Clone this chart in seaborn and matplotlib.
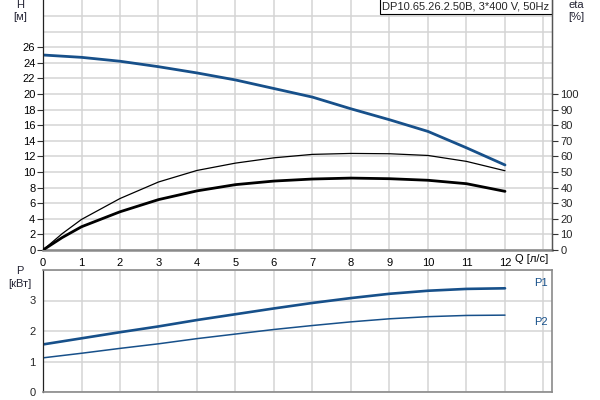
import matplotlib
matplotlib.use("Agg")
import matplotlib.pyplot as plt
import numpy as np
import seaborn as sns

# flow Q [l/s]
q = [0, 1, 2, 3, 4, 5, 6, 7, 8, 9, 10, 11, 12]
q_eta = [0, 0.5, 1, 2, 3, 4, 5, 6, 7, 8, 9, 10, 11, 12]

# head H [m]
head = [25.0, 24.7, 24.2, 23.5, 22.7, 21.8, 20.7, 19.6, 18.1, 16.7, 15.2, 13.1, 10.9]

# efficiencies [%]
eta_pump = [0, 10.5, 19.6, 33.0, 43.6, 51.0, 55.7, 59.1, 61.3, 61.9, 61.7, 60.6, 56.8, 50.8]
eta_total = [0, 8.0, 14.9, 24.5, 32.3, 37.9, 41.9, 44.2, 45.5, 46.1, 45.7, 44.7, 42.5, 37.6]

# power [kW]
p1 = [1.56, 1.76, 1.96, 2.15, 2.36, 2.55, 2.74, 2.92, 3.08, 3.22, 3.32, 3.38, 3.40]
p2 = [1.12, 1.27, 1.43, 1.58, 1.75, 1.90, 2.05, 2.18, 2.30, 2.40, 2.47, 2.51, 2.52]

title = "DP10.65.26.2.50B, 3*400 V, 50Hz"

sns.set_style("white")
plt.rcParams["font.family"] = ["Liberation Sans", "DejaVu Sans"]
plt.rcParams["font.size"] = 8

blue = "#17508a"
grid_c = "#d4d4d4"
txt_c = "#222233"

fig = plt.figure(figsize=(6, 4), dpi=100)
ax = fig.add_axes([43 / 600, 1 - 250 / 400, 509 / 600, 250 / 400 - 0.001])
axp = fig.add_axes([43 / 600, 1 - 392 / 400, 509 / 600, 122 / 400])

xmax = 509 / 38.5

# --- top: head and efficiency
ax.set_xlim(0, xmax)
ax.set_ylim(0, 32)
ax.set_xticks(range(0, 14))
ax.set_xticklabels([str(i) for i in range(0, 13)] + [""])
ax.set_yticks(range(0, 27, 2))
ax.set_yticks([28, 30], minor=True)
ax.grid(True, which="both", color=grid_c, lw=1.1)
ax.set_axisbelow(True)
ax.tick_params(axis="both", which="major", length=4, width=0.8, color="#333333",
               labelsize=8, pad=1.5, labelcolor="black")
ax.tick_params(axis="y", which="minor", length=0)
for s in ["top"]:
    ax.spines[s].set_visible(False)
ax.spines["left"].set_color("#222222")
ax.spines["left"].set_linewidth(0.9)
ax.spines["bottom"].set_color("#8a8a8a")
ax.spines["bottom"].set_linewidth(1.8)
ax.spines["right"].set_color("#555555")

sns.lineplot(x=q, y=head, ax=ax, color=blue, lw=2.0)

ax2 = ax.twinx()
ax2.set_ylim(0, 160)
ax2.set_yticks(range(0, 101, 10))
ax2.tick_params(axis="y", length=4, width=0.8, color="#333333", labelsize=8, pad=2)
ax2.spines["top"].set_visible(False)
ax2.spines["left"].set_visible(False)
ax2.spines["bottom"].set_visible(False)
ax2.spines["right"].set_color("#555555")
ax2.spines["right"].set_linewidth(1.0)
sns.lineplot(x=q_eta, y=eta_pump, ax=ax2, color="black", lw=0.9)
sns.lineplot(x=q_eta, y=eta_total, ax=ax2, color="black", lw=2.0)

ax.text(0.995, 0.997, title, transform=ax.transAxes, ha="right", va="top", fontsize=8,
        bbox=dict(boxstyle="square,pad=0.25", fc="white", ec="black", lw=0.8), zorder=10)

# --- bottom: power
axp.set_xlim(0, xmax)
axp.set_ylim(0, 4)
axp.set_xticks(range(0, 14))
axp.set_xticklabels([])
axp.set_yticks([0, 1, 2, 3])
axp.set_yticks([4], minor=True)
axp.grid(True, which="both", color=grid_c, lw=1.1)
axp.set_axisbelow(True)
axp.tick_params(axis="y", length=4, width=0.8, color="#333333", labelsize=8, pad=1.5)
axp.tick_params(axis="x", length=0)
axp.tick_params(axis="y", which="minor", length=0)
for s in ["top", "right", "bottom"]:
    axp.spines[s].set_color("#8a8a8a")
    axp.spines[s].set_linewidth(1.2)
axp.spines["left"].set_color("#222222")
axp.spines["left"].set_linewidth(0.9)

sns.lineplot(x=q, y=p1, ax=axp, color=blue, lw=1.9)
sns.lineplot(x=q, y=p2, ax=axp, color=blue, lw=1.1)

# --- axis labels
fig.text(20 / 600, 1 - 5 / 400, "H", ha="center", va="center", fontsize=8, color=txt_c)
fig.text(20 / 600, 1 - 17 / 400, "[м]", ha="center", va="center", fontsize=8, color=txt_c)
fig.text(576 / 600, 1 - 5 / 400, "eta", ha="center", va="center", fontsize=8, color=txt_c)
fig.text(576 / 600, 1 - 17 / 400, "[%]", ha="center", va="center", fontsize=8, color=txt_c)
fig.text(20 / 600, 1 - 271 / 400, "P", ha="center", va="center", fontsize=8, color=txt_c)
fig.text(20 / 600, 1 - 284 / 400, "[кВт]", ha="center", va="center", fontsize=8, color=txt_c)
fig.text(532 / 600, 1 - 259 / 400, "Q [л/с]", ha="center", va="center", fontsize=8, color="black")
fig.text(541 / 600, 1 - 283 / 400, "P1", ha="center", va="center", fontsize=8, color=blue)
fig.text(541 / 600, 1 - 322 / 400, "P2", ha="center", va="center", fontsize=8, color=blue)

fig.savefig("out.png", dpi=100)
